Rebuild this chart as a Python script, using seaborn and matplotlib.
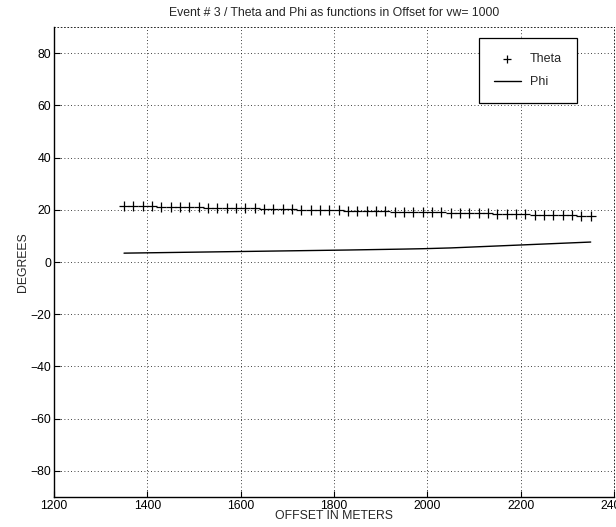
import numpy as np
import pandas as pd
import matplotlib
matplotlib.use("Agg")
import matplotlib.pyplot as plt
import seaborn as sns

# Offsets (m) sampled every 20 m
offset = list(range(1350, 2351, 20))

theta = [21.5, 21.4, 21.3, 21.3, 21.2, 21.1, 21.1, 21.0, 20.9, 20.8,
         20.8, 20.7, 20.6, 20.5, 20.5, 20.4, 20.3, 20.2, 20.2, 20.1,
         20.0, 19.9, 19.9, 19.8, 19.7, 19.6, 19.6, 19.5, 19.4, 19.3,
         19.3, 19.2, 19.1, 19.0, 19.0, 18.9, 18.8, 18.7, 18.7, 18.6,
         18.5, 18.4, 18.4, 18.3, 18.2, 18.1, 18.1, 18.0, 17.9, 17.8,
         17.7]

phi = [3.40, 3.45, 3.50, 3.55, 3.60, 3.65, 3.70, 3.75, 3.80, 3.85,
       3.90, 3.95, 4.00, 4.05, 4.10, 4.15, 4.20, 4.25, 4.30, 4.35,
       4.40, 4.45, 4.50, 4.55, 4.60, 4.66, 4.72, 4.78, 4.84, 4.90,
       4.96, 5.03, 5.10, 5.20, 5.30, 5.40, 5.55, 5.70, 5.85, 6.00,
       6.15, 6.30, 6.45, 6.60, 6.75, 6.90, 7.05, 7.20, 7.35, 7.50,
       7.65]

x_ticks = [1200, 1400, 1600, 1800, 2000, 2200, 2400]
y_ticks = [-80, -60, -40, -20, 0, 20, 40, 60, 80]

df = pd.DataFrame({"offset": offset, "theta": theta, "phi": phi})

sns.set_theme(style="white")
plt.rcParams["font.family"] = ["Liberation Sans", "DejaVu Sans"]

fig = plt.figure(figsize=(6.16, 5.27), dpi=100)
ax = fig.add_axes([0.0877, 0.0569, 0.9091, 0.8918])

sns.scatterplot(data=df, x="offset", y="theta", marker="+", s=48,
                color="black", linewidth=0.9, label="Theta", ax=ax, zorder=3)
sns.lineplot(data=df, x="offset", y="phi", color="black", linewidth=1.0,
             label="Phi", ax=ax, zorder=3)

ax.set_xlim(1200, 2400)
ax.set_ylim(-90, 90)
ax.set_xticks(x_ticks)
ax.set_yticks(y_ticks)
ax.set_xticklabels([str(t) for t in x_ticks])
ax.set_yticklabels([str(t).replace("-", "\u2212") for t in y_ticks])

ax.grid(True, color="black", linestyle=(0, (1, 3)), linewidth=0.6)
ax.tick_params(direction="in", length=4, width=0.8, colors="black",
               labelsize=8.8, pad=2, bottom=True, left=True)

for side in ["left", "bottom"]:
    ax.spines[side].set_color("black")
    ax.spines[side].set_linewidth(1.0)
for side in ["top", "right"]:
    ax.spines[side].set_color("black")
    ax.spines[side].set_linewidth(0.6)
    ax.spines[side].set_linestyle((0, (1, 3)))

ax.set_xlabel("OFFSET IN METERS", fontsize=8.8, labelpad=-1)
ax.set_ylabel("DEGREES", fontsize=8.8, labelpad=1)
ax.set_title("Event # 3 / Theta and Phi as functions in Offset for vw= 1000",
             fontsize=8.8, pad=8)

leg = ax.legend(loc="upper right", bbox_to_anchor=(0.934, 0.977),
                borderaxespad=0, fontsize=9, frameon=True, fancybox=False,
                borderpad=1.2, handlelength=2.2, labelspacing=0.9,
                handletextpad=0.7, markerscale=0.8)
leg.get_frame().set_edgecolor("black")
leg.get_frame().set_linewidth(0.9)
leg.get_frame().set_facecolor("white")
leg.get_frame().set_alpha(1)

fig.savefig("out.png", dpi=100)
